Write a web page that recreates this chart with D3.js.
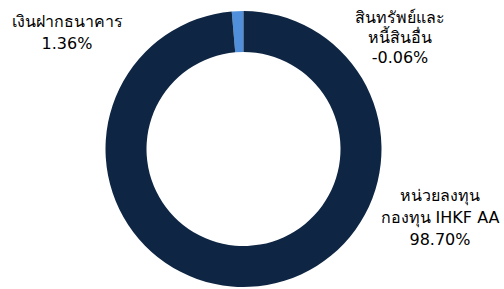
<!DOCTYPE html>
<html>
<head>
<meta charset="utf-8">
<script src="https://cdn.jsdelivr.net/npm/d3@7"></script>
<style>
  html, body { margin: 0; padding: 0; background: #fff; }
  svg { display: block; }
  text { font-family: Tahoma, "DejaVu Sans", "Noto Sans", sans-serif; font-size: 16px; fill: #000; }
</style>
</head>
<body>
<svg id="chart" width="504" height="289"></svg>
<script>
const categories = ["เงินฝากธนาคาร", "สินทรัพย์และหนี้สินอื่น", "หน่วยลงทุนกองทุน IHKF AA"];
const values = [1.36, -0.06, 98.70];
const labelLines = [
  ["เงินฝากธนาคาร", "1.36%"],
  ["สินทรัพย์และ", "หนี้สินอื่น", "-0.06%"],
  ["หน่วยลงทุน", "กองทุน IHKF AA", "98.70%"]
];
const colors = ["#4f8fdc", "#d9d9d9", "#0e2643"];

const svg = d3.select("#chart");
const cx = 243.5, cy = 149, R = 138, r = 97;
const total = d3.sum(values, v => Math.max(0, v));
const start = -2 * Math.PI * Math.max(0, values[0]) / total;

const pie = d3.pie().sort(null).value(v => Math.max(0, v))
  .startAngle(start).endAngle(start + 2 * Math.PI);
const arc = d3.arc().innerRadius(r).outerRadius(R);

const g = svg.append("g").attr("transform", `translate(${cx},${cy})`);
g.selectAll("path").data(pie(values)).join("path")
  .attr("d", arc)
  .attr("fill", (d, i) => colors[i]);

const labelPos = [
  { x: 67, y: 22, lh: 22 },
  { x: 400, y: 18, lh: 20 },
  { x: 440, y: 196, lh: 22 }
];
labelLines.forEach((lines, i) => {
  const p = labelPos[i];
  const t = svg.append("text").attr("text-anchor", "middle");
  lines.forEach((ln, j) => {
    t.append("tspan").attr("x", p.x).attr("y", p.y + j * p.lh)
      .attr("dominant-baseline", "middle").text(ln);
  });
});
</script>
</body>
</html>
